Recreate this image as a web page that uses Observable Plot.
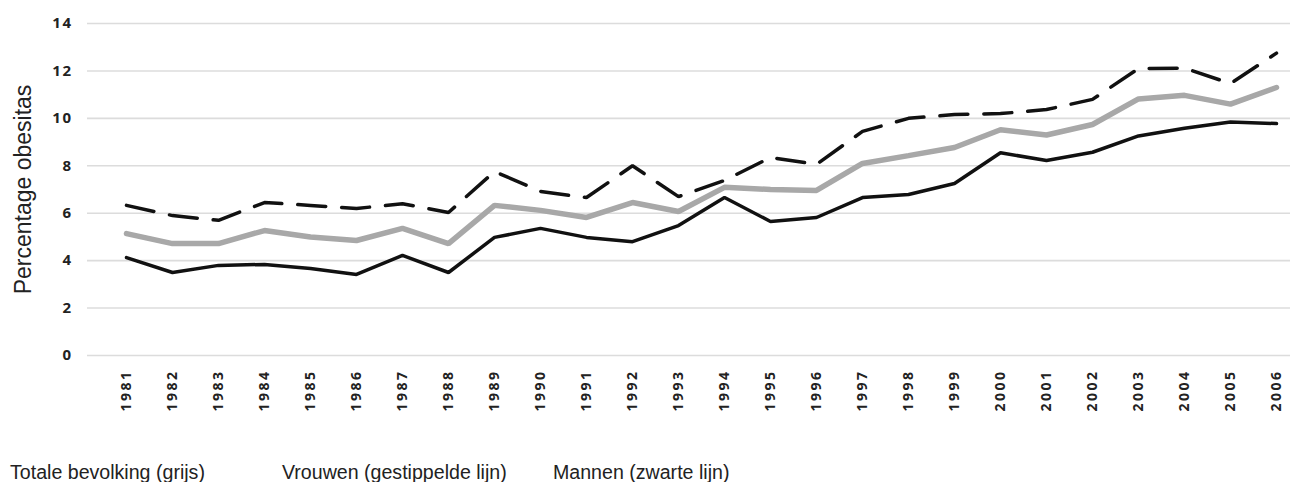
<!DOCTYPE html>
<html>
<head>
<meta charset="utf-8">
<script src="https://cdn.jsdelivr.net/npm/d3@7"></script>
<script src="https://cdn.jsdelivr.net/npm/@observablehq/plot@0.6"></script>
<style>
  body { margin: 0; background: #fff; }
  #wrap { position: relative; width: 1290px; height: 482px; overflow: hidden; }
  #legend { position: absolute; left: 0; top: 463px; height: 20px; font-family: "Liberation Sans", Arial, sans-serif; font-size: 19.6px; line-height: 19px; color: #222; white-space: nowrap; }
  #legend span { position: absolute; top: 0; }
</style>
</head>
<body>
<div id="wrap"><div id="chart"></div><div id="legend"></div></div>
<script>
const years = ["1981","1982","1983","1984","1985","1986","1987","1988","1989","1990","1991","1992","1993","1994","1995","1996","1997","1998","1999","2000","2001","2002","2003","2004","2005","2006"];
const totaal  = [5.14, 4.72, 4.72, 5.27, 5.0, 4.85, 5.36, 4.72, 6.33, 6.12, 5.82, 6.45, 6.07, 7.09, 7.0, 6.96, 8.1, 8.43, 8.77, 9.52, 9.3, 9.74, 10.82, 10.97, 10.6, 11.3];
const vrouwen = [6.33, 5.9, 5.7, 6.45, 6.33, 6.2, 6.4, 6.03, 7.76, 6.92, 6.66, 8.0, 6.7, 7.38, 8.35, 8.06, 9.45, 10.0, 10.16, 10.2, 10.37, 10.8, 12.1, 12.12, 11.47, 12.75];
const mannen  = [4.13, 3.5, 3.8, 3.84, 3.67, 3.42, 4.22, 3.5, 4.98, 5.36, 4.98, 4.8, 5.48, 6.66, 5.65, 5.82, 6.66, 6.79, 7.25, 8.55, 8.22, 8.57, 9.26, 9.58, 9.85, 9.78];
const yTicks = [0, 2, 4, 6, 8, 10, 12, 14];
const yLabel = "Percentage obesitas";
const legendItems = ["Totale bevolking (grijs)", "Vrouwen (gestippelde lijn)", "Mannen (zwarte lijn)"];

const rows = years.map((y, i) => ({year: y, totaal: totaal[i], vrouwen: vrouwen[i], mannen: mannen[i]}));

const chart = Plot.plot({
  width: 1290,
  height: 440,
  marginLeft: 87,
  marginRight: 0,
  marginTop: 23,
  marginBottom: 85,
  style: {fontFamily: "'Open Sans', sans-serif", color: "#222", background: "#fff"},
  x: {type: "point", domain: years, padding: 0, insetLeft: 27, insetRight: 2},
  y: {domain: [0, 14]},
  marks: [
    Plot.gridY(yTicks, {stroke: "#dcdcdc", strokeOpacity: 1, strokeWidth: 1.6}),
    Plot.axisY(yTicks, {tickSize: 0, tickPadding: 15, fontSize: 15, fontWeight: "bold", label: null}),
    Plot.axisX({tickSize: 0, tickPadding: 14, tickRotate: -90, fontSize: 14, fontWeight: "bold", label: null}),
    Plot.text([yLabel], {frameAnchor: "left", textAnchor: "middle", rotate: -90, dx: -64, fontSize: 23, fontFamily: "'Liberation Sans', Arial, sans-serif", fill: "#222", fontWeight: "normal"}),
    Plot.line(rows, {x: "year", y: "totaal", stroke: "#a8a8a8", strokeWidth: 5.5, strokeLinejoin: "miter"}),
    Plot.line(rows, {x: "year", y: "mannen", stroke: "#111", strokeWidth: 3.5, strokeLinejoin: "miter"}),
    Plot.line(rows, {x: "year", y: "vrouwen", stroke: "#111", strokeWidth: 3.5, strokeDasharray: "28,16", strokeLinejoin: "miter"})
  ]
});
document.getElementById("chart").appendChild(chart);
d3.select(chart).selectAll('g[aria-label="x-axis tick label"] text').style("letter-spacing", "2.5px");
d3.select(chart).selectAll('g[aria-label="y-axis tick label"] text').style("letter-spacing", "1.5px");

const legendX = [10, 282, 553];
const legend = document.getElementById("legend");
legendItems.forEach((t, i) => {
  const s = document.createElement("span");
  s.textContent = t;
  s.style.left = legendX[i] + "px";
  legend.appendChild(s);
});
</script>
</body>
</html>
